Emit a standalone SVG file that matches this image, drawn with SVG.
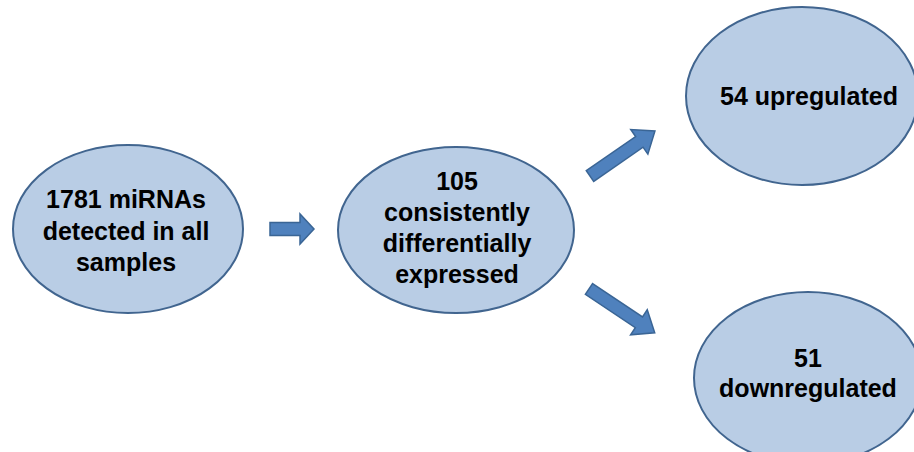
<svg xmlns="http://www.w3.org/2000/svg" width="914" height="452" viewBox="0 0 914 452">
<style>
.node{fill:#b9cde5;stroke:#41658f;stroke-width:2}
.lbl{font-family:"Liberation Sans",Arial,sans-serif;font-weight:bold;font-size:25px;fill:#000;text-anchor:middle}
.arr{fill:#4f81bd;stroke:#3a6595;stroke-width:1.5}
</style>
<rect width="914" height="452" fill="#fff"/>
<g id="connectors">
<path class="arr" transform="translate(270,229)" d="M0,-6.5H30V-15L44,0L30,15V6.5H0Z"/>
<path class="arr" transform="translate(590,176) rotate(-34.7)" d="M0,-6.5H60V-15L79,0L60,15V6.5H0Z"/>
<path class="arr" transform="translate(589,289) rotate(33.7)" d="M0,-6.5H60V-15L79,0L60,15V6.5H0Z"/>
</g>
<g id="n1">
<ellipse class="node" cx="128" cy="229" rx="115" ry="84"/>
<text class="lbl" x="126" y="208">1781 miRNAs</text>
<text class="lbl" x="126" y="240">detected in all</text>
<text class="lbl" x="126" y="271">samples</text>
</g>
<g id="n2">
<ellipse class="node" cx="456" cy="230" rx="118" ry="83"/>
<text class="lbl" x="457" y="190">105</text>
<text class="lbl" x="457" y="221">consistently</text>
<text class="lbl" x="457" y="252">differentially</text>
<text class="lbl" x="457" y="283">expressed</text>
</g>
<g id="n3">
<ellipse class="node" cx="802" cy="96" rx="116" ry="89"/>
<text class="lbl" x="809" y="105">54 upregulated</text>
</g>
<g id="n4">
<ellipse class="node" cx="808" cy="378" rx="114" ry="86"/>
<text class="lbl" x="808" y="367">51</text>
<text class="lbl" x="808" y="397">downregulated</text>
</g>
</svg>
